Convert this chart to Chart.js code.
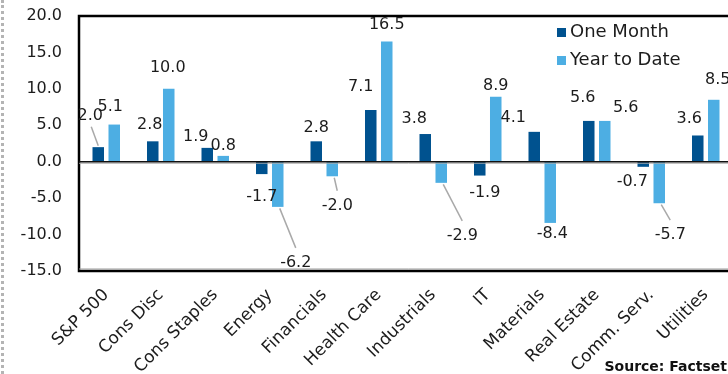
<!DOCTYPE html>
<html>
<head>
<meta charset="utf-8">
<script src="https://cdn.jsdelivr.net/npm/chart.js@4.4.1/dist/chart.umd.min.js"></script>
<style>
  html, body { margin: 0; padding: 0; background: #fff; overflow: hidden; }
  #wrap { position: absolute; left: 0; top: 0; width: 740px; height: 374px; }
  #dots { position: absolute; left: 1px; top: 0; height: 374px; border-left: 3px dotted #b4b4b4; }
</style>
</head>
<body>
<div id="wrap"><canvas id="c" width="740" height="374"></canvas></div>
<div id="dots"></div>
<script>
// Sector returns, percent
const categories = ['S&P 500', 'Cons Disc', 'Cons Staples', 'Energy', 'Financials', 'Health Care',
  'Industrials', 'IT', 'Materials', 'Real Estate', 'Comm. Serv.', 'Utilities'];
const oneMonth   = [2.0, 2.8, 1.9, -1.7, 2.8, 7.1, 3.8, -1.9, 4.1, 5.6, -0.7, 3.6];
const yearToDate = [5.1, 10.0, 0.8, -6.2, -2.0, 16.5, -2.9, 8.9, -8.4, 5.6, -5.7, 8.5];
const seriesNames = ['One Month', 'Year to Date'];
const yMin = -15, yMax = 20, yStep = 5;
const sourceNote = 'Source: Factset';

const DARK = '#00528f';
const LIGHT = '#4daee3';
const FONT = '"DejaVu Sans", sans-serif';
const INK = '#1c1c1c';

// value-label nudges relative to the bar end: [dx, dy, leader line]
const labelNudge = [
  [[-8, -31.5, 1], [-3, -16], [-11.5, -11], [0, 23], [0, -13], [-10, -23], [-11, -15.5], [5, 17], [-21, -14], [-6, -23.5], [-11, 15], [-8.5, -17]],
  [[-4, -18], [-1, -21], [0, -10], [18, 56, 1], [5, 29.5, 1], [0, -17], [21, 53, 1], [0, -11], [2, 11], [21, -13.5], [11, 32, 1], [4, -19.6]]
];

const framePlugin = {
  id: 'frame',
  beforeDatasetsDraw(chart) {
    const { ctx, chartArea: a } = chart;
    ctx.save();
    ctx.strokeStyle = '#000';
    ctx.lineWidth = 2.5;
    ctx.beginPath();
    ctx.moveTo(a.right + 5, a.top);
    ctx.lineTo(a.left, a.top);
    ctx.lineTo(a.left, a.bottom);
    ctx.lineTo(a.right + 5, a.bottom);
    ctx.stroke();
    ctx.strokeStyle = '#9a9a9a';
    ctx.lineWidth = 1;
    ctx.beginPath();
    ctx.moveTo(a.left, a.bottom - 2);
    ctx.lineTo(a.right + 5, a.bottom - 2);
    ctx.stroke();
    ctx.restore();
  },
  afterDatasetsDraw(chart) {
    const { ctx, chartArea: a, scales } = chart;
    const y0 = scales.y.getPixelForValue(0);
    ctx.save();
    ctx.strokeStyle = '#a8a8a8';
    ctx.lineWidth = 1;
    ctx.beginPath();
    ctx.moveTo(a.left, y0 + 1.5);
    ctx.lineTo(a.right + 5, y0 + 1.5);
    ctx.stroke();
    ctx.strokeStyle = '#111';
    ctx.lineWidth = 1.6;
    ctx.beginPath();
    ctx.moveTo(a.left, y0);
    ctx.lineTo(a.right + 5, y0);
    ctx.stroke();
    ctx.restore();
  }
};

const valueLabels = {
  id: 'valueLabels',
  afterDatasetsDraw(chart) {
    const { ctx } = chart;
    ctx.save();
    ctx.font = '16px ' + FONT;
    ctx.textAlign = 'center';
    ctx.textBaseline = 'middle';
    chart.data.datasets.forEach((ds, di) => {
      chart.getDatasetMeta(di).data.forEach((bar, i) => {
        const v = ds.data[i];
        const [dx, dy, leader] = labelNudge[di][i];
        const lx = bar.x + dx, ly = bar.y + dy;
        if (leader) {
          const s = v < 0 ? 1 : -1;
          ctx.strokeStyle = '#a9a9a9';
          ctx.lineWidth = 1.5;
          ctx.beginPath();
          ctx.moveTo(bar.x + (v < 0 ? 2 : 0), bar.y + s * 1.5);
          ctx.lineTo(lx + (v < 0 ? 0 : 1), ly - s * (v < 0 ? 15 : 11));
          ctx.stroke();
        }
        ctx.fillStyle = INK;
        ctx.fillText(v.toFixed(1), lx, ly);
      });
    });
    ctx.restore();
  }
};

const legendAndNote = {
  id: 'legendAndNote',
  afterDraw(chart) {
    const { ctx } = chart;
    ctx.save();
    const colors = [DARK, LIGHT];
    ctx.font = '18px ' + FONT;
    ctx.textBaseline = 'middle';
    ctx.textAlign = 'left';
    seriesNames.forEach((name, k) => {
      const y = 32 + k * 28;
      ctx.fillStyle = colors[k];
      ctx.fillRect(557, y - 4, 9, 9);
      ctx.fillStyle = INK;
      ctx.fillText(name, 570, y);
    });
    ctx.font = 'bold 14px ' + FONT;
    ctx.textAlign = 'right';
    ctx.fillStyle = '#111';
    ctx.fillText(sourceNote, 727, 367);
    ctx.restore();
  }
};

new Chart(document.getElementById('c'), {
  type: 'bar',
  data: {
    labels: categories,
    datasets: [
      { label: seriesNames[0], data: oneMonth, backgroundColor: DARK },
      { label: seriesNames[1], data: yearToDate, backgroundColor: LIGHT }
    ]
  },
  options: {
    responsive: false,
    animation: false,
    devicePixelRatio: 1,
    layout: { padding: { top: 16, right: 7, left: 0, bottom: 0 } },
    datasets: { bar: { categoryPercentage: 0.587, barPercentage: 0.72 } },
    plugins: { legend: { display: false }, tooltip: { enabled: false } },
    scales: {
      x: {
        grid: { display: false, drawTicks: false },
        border: { display: false },
        ticks: {
          color: INK, font: { family: FONT, size: 17 },
          minRotation: 45, maxRotation: 45, padding: 14, autoSkip: false
        },
        afterFit(scale) { scale.height = 103; scale.paddingLeft = 0; scale.paddingRight = 0; }
      },
      y: {
        min: yMin, max: yMax,
        grid: { display: false, drawTicks: false },
        border: { display: false },
        ticks: {
          stepSize: yStep, color: INK, font: { family: FONT, size: 16 }, padding: 17,
          callback: v => Number(v).toFixed(1)
        },
        afterFit(scale) { scale.width = 79; scale.paddingTop = 0; scale.paddingBottom = 0; }
      }
    }
  },
  plugins: [framePlugin, valueLabels, legendAndNote]
});
</script>
</body>
</html>
